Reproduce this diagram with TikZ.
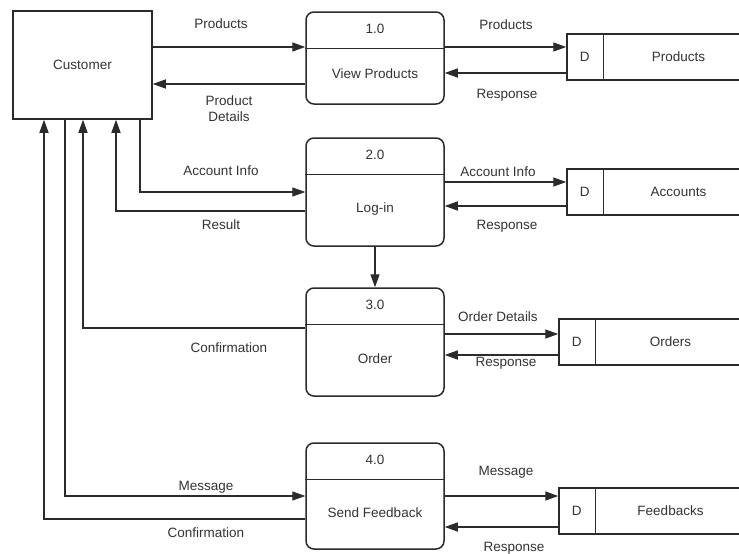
\documentclass[tikz,border=0pt]{standalone}
\usepackage{fontspec}
\setmainfont{Liberation Sans}
\usetikzlibrary{arrows.meta,calc}
\definecolor{ink}{HTML}{2B2B2B}
\definecolor{txt}{HTML}{333333}
\begin{document}
\begin{tikzpicture}[x=1pt,y=-1pt,
  every node/.style={font=\fontsize{13.5}{16}\selectfont, text=txt},
  entity/.style={draw=ink, line width=1.5pt, minimum width=139pt, minimum height=108pt, inner sep=0pt},
  proc/.style={draw=ink, line width=1.5pt, rounded corners=8pt, minimum width=138pt, inner sep=0pt},
  store/.style={draw=ink, line width=1.5pt, minimum height=46pt, minimum width=186pt, inner sep=0pt},
  sep/.style={draw=ink, line width=1.3pt},
  flow/.style={draw=ink, line width=1.3pt, -{Triangle[length=13pt,width=9pt]}},
  lbl/.style={inner sep=1pt}]
\useasboundingbox[fill=white] (0,0) rectangle (739,554);

% external entity
\node[entity] (cust) at (82.5,65) {};
\node[lbl] (custname) at (cust.center) {Customer};

% processes
\node[proc, minimum height=92pt]  (p1) at (375,58)  {};
\node[proc, minimum height=108pt] (p2) at (375,192) {};
\node[proc, minimum height=108pt] (p3) at (375,342) {};
\node[proc, minimum height=106pt] (p4) at (375,496) {};
\foreach \p/\num/\name/\off in {p1/1.0/View Products/16, p2/2.0/Log-in/17, p3/3.0/Order/17, p4/4.0/Send Feedback/17}{
  \draw[sep] ($(\p.north west)+(0,37)$) -- ($(\p.north east)+(0,37)$);
  \node[lbl] (\p num) at ($(\p.north)+(0,18)$) {\num};
  \node[lbl] (\p name) at ($(\p.center)+(0,\off)$) {\name};
}

% data stores (open to the right)
\node[store] (s1) at (660,57)  {};
\node[store] (s2) at (660,192) {};
\node[store] (s3) at (652,342) {};
\node[store] (s4) at (652,511) {};
\foreach \s/\name in {s1/Products, s2/Accounts, s3/Orders, s4/Feedbacks}{
  \draw[sep] ($(\s.north west)+(37,0)$) -- ($(\s.south west)+(37,0)$);
  \node[lbl] (\s d) at ($(\s.west)+(18.5,0)$) {D};
  \node[lbl] (\s name) at ($(\s.center)+(18.5,0)$) {\name};
}

% customer <-> view products
\draw[flow] (cust.east |- 0,47) -- (p1.west |- 0,47);
\draw[flow] (p1.west |- 0,84) -- (cust.east |- 0,84);
\node[lbl] at (221,24) {Products};
\node[lbl, align=center] at (229,109) {Product\\Details};

% customer <-> log-in
\draw[flow] (cust.south -| 140,0) |- (p2.west |- 0,192);
\draw[flow] (p2.west |- 0,211) -| (cust.south -| 116,0);
\node[lbl] at (221,171) {Account Info};
\node[lbl] at (221,225) {Result};

% order confirmation
\draw[flow] (p3.west |- 0,328) -| (cust.south -| 83,0);
\node[lbl] at (229,348) {Confirmation};

% feedback
\draw[flow] (cust.south -| 65,0) |- (p4.west |- 0,496);
\draw[flow] (p4.west |- 0,519) -| (cust.south -| 44,0);
\node[lbl] at (206,487) {Message};
\node[lbl] at (206,533) {Confirmation};

% log-in leads to order
\draw[flow] (p2.south) -- (p3.north);

% process <-> store flows
\draw[flow] (p1.east |- 0,47) -- (s1.west |- 0,47);
\draw[flow] (s1.west |- 0,73) -- (p1.east |- 0,73);
\node[lbl] at (506,25) {Products};
\node[lbl] at (507,95) {Response};

\draw[flow] (p2.east |- 0,182) -- (s2.west |- 0,182);
\draw[flow] (s2.west |- 0,206) -- (p2.east |- 0,206);
\node[lbl] at (498,172) {Account Info};
\node[lbl] at (507,226) {Response};

\draw[flow] (p3.east |- 0,334) -- (s3.west |- 0,334);
\draw[flow] (s3.west |- 0,355) -- (p3.east |- 0,355);
\node[lbl] at (498,317) {Order Details};
\node[lbl] at (506,363) {Response};

\draw[flow] (p4.east |- 0,496) -- (s4.west |- 0,496);
\draw[flow] (s4.west |- 0,527) -- (p4.east |- 0,527);
\node[lbl] at (506,472) {Message};
\node[lbl] at (514,548) {Response};
\end{tikzpicture}
\end{document}
